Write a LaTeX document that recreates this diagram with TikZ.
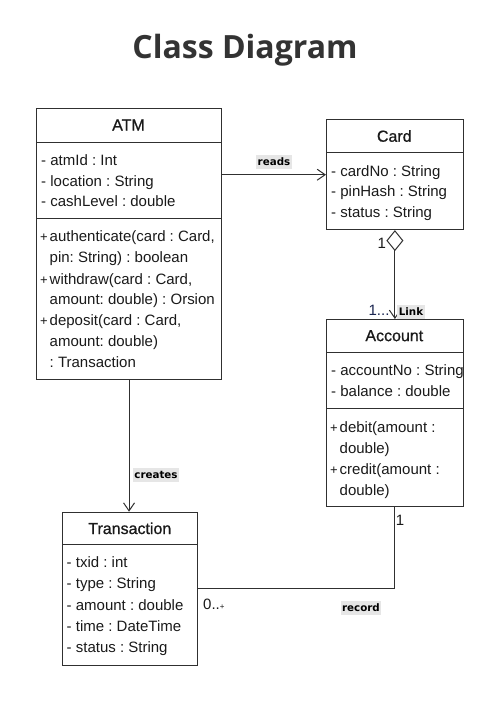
\documentclass[tikz,border=0pt]{standalone}
\usepackage{fontspec}
\setmainfont{Liberation Sans}
\newfontfamily\titlefont{Open Sans}
\newfontfamily\lblfont{DejaVu Sans}
\newfontfamily\headfont{Liberation Sans}[FakeBold=0.8]
\usetikzlibrary{arrows.meta}
\frenchspacing
\definecolor{linec}{HTML}{303030}
\definecolor{txtc}{HTML}{1A1A1A}
\definecolor{titlec}{HTML}{333333}
\definecolor{lblbg}{HTML}{E6E6E6}
\definecolor{multc}{HTML}{1A2550}
\tikzset{
  umlbox/.style={draw=linec, line width=1.1pt, fill=white, inner sep=0pt, anchor=north west},
  txt/.style={anchor=base west, inner sep=0pt, font=\fontsize{15}{18}\selectfont, text=txtc},
  hd/.style={inner sep=0pt, font=\headfont\fontsize{16}{19}\selectfont, text=txtc},
  lbl/.style={fill=lblbg, inner xsep=1.4pt, inner ysep=3pt, font=\lblfont\bfseries\fontsize{10.3}{12}\selectfont, text=black},
  mult/.style={inner sep=0pt, font=\fontsize{15}{18}\selectfont, text=txtc},
  sep/.style={draw=linec, line width=1.1pt},
  conn/.style={draw=linec, line width=1pt},
  assoc/.style={conn, -{Straight Barb[length=8pt,width=11pt]}},
  aggr/.style={conn, {Diamond[open,length=21pt,width=17pt]}-{Straight Barb[length=8pt,width=11pt]}}
}
\newcommand\plusm[1]{\makebox[9.5pt][l]{\fontsize{13}{15}\selectfont +}#1}
\begin{document}
\begin{tikzpicture}[x=1pt,y=-1pt]
\useasboundingbox[fill=white] (0,0) rectangle (490,705);

% title
\node[anchor=base, inner sep=0pt, font=\titlefont\bfseries\fontsize{32}{36}\selectfont, text=titlec] (title) at (245,58.5) {Class Diagram};

% boxes
\node[umlbox, minimum width=185pt, minimum height=271.3pt] (atm) at (36,108) {};
\node[umlbox, minimum width=136.7pt, minimum height=109.7pt] (card) at (326,119.3) {};
\node[umlbox, minimum width=136.7pt, minimum height=187pt] (account) at (326,319) {};
\node[umlbox, minimum width=135pt, minimum height=153.3pt] (trans) at (62.3,511.7) {};

% compartment separators
\draw[sep] (36,142.3) -- (221,142.3);
\draw[sep] (36,218.3) -- (221,218.3);
\draw[sep] (326,152.7) -- (462.7,152.7);
\draw[sep] (326,352.3) -- (462.7,352.3);
\draw[sep] (326,408.3) -- (462.7,408.3);
\draw[sep] (62.3,544.3) -- (197.3,544.3);

% headers
\node[hd] (atmh) at (128.5,125) {ATM};
\node[hd] (cardh) at (394.3,136) {Card};
\node[hd] (accth) at (394.3,335.7) {Account};
\node[hd] (transh) at (129.8,528.3) {Transaction};

% ATM
\node[txt] (a1) at (41,165.7) {- atmId : Int};
\node[txt] (a2) at (41,186) {- location : String};
\node[txt] (a3) at (41,206.7) {- cashLevel : double};
\node[txt] (m1) at (40,241.7) {\plusm{authenticate(card : Card,}};
\node[txt] (m2) at (49.5,262.3) {pin: String) : boolean};
\node[txt] (m3) at (40,284) {\plusm{withdraw(card : Card,}};
\node[txt] (m4) at (49.5,304.3) {amount: double) : Orsion};
\node[txt] (m5) at (40,325.7) {\plusm{deposit(card : Card,}};
\node[txt] (m6) at (49.5,346.7) {amount: double)};
\node[txt] (m7) at (49.5,367.7) {: Transaction};

% Card
\node[txt] (c1) at (331,176) {- cardNo : String};
\node[txt] (c2) at (331,196.3) {- pinHash : String};
\node[txt] (c3) at (331,217.3) {- status : String};

% Account
\node[txt] (ac1) at (331,375.7) {- accountNo : String};
\node[txt] (ac2) at (331,396) {- balance : double};
\node[txt] (am1) at (330,432.7) {\plusm{debit(amount :}};
\node[txt] (am2) at (339.5,453) {double)};
\node[txt] (am3) at (330,474.3) {\plusm{credit(amount :}};
\node[txt] (am4) at (339.5,495) {double)};

% Transaction
\node[txt] (t1) at (66.5,567.7) {- txid : int};
\node[txt] (t2) at (66.5,588.3) {- type : String};
\node[txt] (t3) at (66.5,610.3) {- amount : double};
\node[txt] (t4) at (66.5,631.7) {- time : DateTime};
\node[txt] (t5) at (66.5,652) {- status : String};

% connectors
\draw[assoc] (atm.east |- card.west) -- (card.west);
\node[lbl] (lreads) at (274,161.7) {reads};

\draw[aggr] (card.south) -- (account.north);
\node[mult] (m1card) at (381.7,243.3) {1};
\node[mult, text=multc] (mmany) at (379,310) {1...};
\node[lbl] (llink) at (411,312) {Link};

\draw[assoc] (atm.south) -- (atm.south |- trans.north);
\node[lbl] (lcreates) at (156,475) {creates};

\draw[conn] (account.south) |- (trans.east);
\node[mult] (m1acc) at (400,520) {1};
\node[mult, anchor=west] (m0) at (203,604) {0..{\fontsize{8}{9}\selectfont +}};
\node[lbl] (lrecord) at (361,608) {record};
\end{tikzpicture}
\end{document}
